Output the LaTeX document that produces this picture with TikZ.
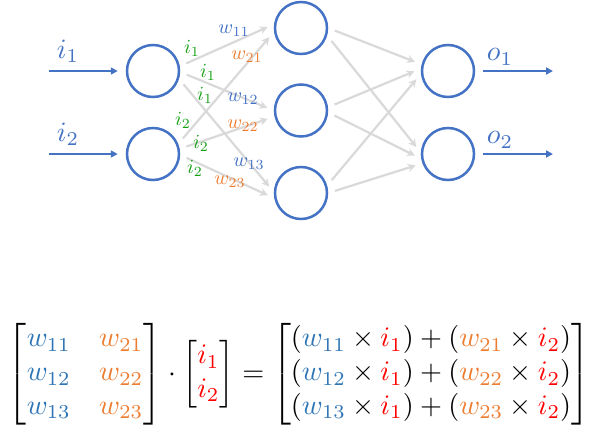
\documentclass[tikz,border=0pt]{standalone}
\usepackage{amsmath}
\usetikzlibrary{arrows.meta}
\definecolor{nblue}{HTML}{4472C4}
\definecolor{mblue}{HTML}{2E75B6}
\definecolor{morange}{HTML}{ED7D31}
\definecolor{ngreen}{HTML}{16A016}
\definecolor{ngray}{HTML}{D9D9D9}
\definecolor{mred}{HTML}{FF0000}
\tikzset{
  neuron/.style={circle, draw=nblue, line width=2.5pt, minimum size=52pt, inner sep=0pt},
  barrow/.style={draw=nblue, line width=2.5pt, -{Triangle[length=7pt,width=7pt]}},
  garrow/.style={draw=ngray, line width=2.2pt, -{Stealth[length=8pt,width=8pt]}, shorten <=7pt, shorten >=7pt},
  biglabel/.style={text=nblue, scale=2.8, inner sep=0pt},
  glabel/.style={text=ngreen, scale=2.0, inner sep=0pt},
  wblabel/.style={text=nblue, scale=2.0, inner sep=0pt},
  wolabel/.style={text=morange, scale=2.0, inner sep=0pt}
}
\begin{document}
\begin{tikzpicture}[x=1pt,y=-1pt]
\useasboundingbox (0,0) rectangle (600,445);
% neurons
\node[neuron] (in1) at (153,71) {};
\node[neuron] (in2) at (153,154) {};
\node[neuron] (h1) at (301,28) {};
\node[neuron] (h2) at (301,110.5) {};
\node[neuron] (h3) at (301,193) {};
\node[neuron] (o1) at (448,71) {};
\node[neuron] (o2) at (448,154) {};
% input / output arrows
\coordinate (s1) at (49,71);
\coordinate (s2) at (49,154);
\coordinate (e1) at (553,71);
\coordinate (e2) at (553,154);
\draw[barrow, shorten >=8pt] (s1) -- (in1.west);
\draw[barrow, shorten >=8pt] (s2) -- (in2.west);
\draw[barrow, shorten <=8pt] (o1.east) -- (e1);
\draw[barrow, shorten <=8pt] (o2.east) -- (e2);
\node[biglabel] (li1) at (68,51) {$i_1$};
\node[biglabel] (li2) at (68,134) {$i_2$};
\node[biglabel] (lo1) at (500,57) {$o_1$};
\node[biglabel] (lo2) at (500,140) {$o_2$};
% input -> hidden
\draw[garrow] (in1.10) -- (h1.172);
\draw[garrow] (in1.-2) -- (h2.180);
\draw[garrow] (in1.-17) -- (h3.178);
\draw[garrow] (in2.22) -- (h1.188);
\draw[garrow] (in2.11) -- (h2.193);
\draw[garrow] (in2.-2) -- (h3.191);
% hidden -> output
\draw[garrow] (h1.0) -- (o1.166);
\draw[garrow] (h1.-16) -- (o2.177);
\draw[garrow] (h2.7) -- (o1.175);
\draw[garrow] (h2.-4) -- (o2.190);
\draw[garrow] (h3.16) -- (o1.186);
\draw[garrow] (h3.0) -- (o2.200);
% edge labels
\node[glabel] (g1) at (192,48) {$i_1$};
\node[glabel] (g2) at (208,72) {$i_1$};
\node[glabel] (g3) at (205,95) {$i_1$};
\node[glabel] (g4) at (183,120) {$i_2$};
\node[glabel] (g5) at (201,143) {$i_2$};
\node[glabel] (g6) at (195,168) {$i_2$};
\node[wblabel] (w11) at (234,31) {$w_{11}$};
\node[wolabel] (w21) at (247,57) {$w_{21}$};
\node[wblabel] (w12) at (243,99) {$w_{12}$};
\node[wolabel] (w22) at (243,126) {$w_{22}$};
\node[wblabel] (w13) at (249,164) {$w_{13}$};
\node[wolabel] (w23) at (230,182) {$w_{23}$};
% equation
\node[inner sep=0pt] (eq) at (299,374) {\resizebox{582pt}{!}{$
\begin{bmatrix}
\textcolor{mblue}{w_{11}} & \textcolor{morange}{w_{21}}\\
\textcolor{mblue}{w_{12}} & \textcolor{morange}{w_{22}}\\
\textcolor{mblue}{w_{13}} & \textcolor{morange}{w_{23}}
\end{bmatrix}
\cdot
\begin{bmatrix}
\textcolor{mred}{i_1}\\
\textcolor{mred}{i_2}
\end{bmatrix}
=
\begin{bmatrix}
(\textcolor{mblue}{w_{11}}\times\textcolor{mred}{i_1}) + (\textcolor{morange}{w_{21}}\times\textcolor{mred}{i_2})\\
(\textcolor{mblue}{w_{12}}\times\textcolor{mred}{i_1}) + (\textcolor{morange}{w_{22}}\times\textcolor{mred}{i_2})\\
(\textcolor{mblue}{w_{13}}\times\textcolor{mred}{i_1}) + (\textcolor{morange}{w_{23}}\times\textcolor{mred}{i_2})
\end{bmatrix}
$}};
\end{tikzpicture}
\end{document}
